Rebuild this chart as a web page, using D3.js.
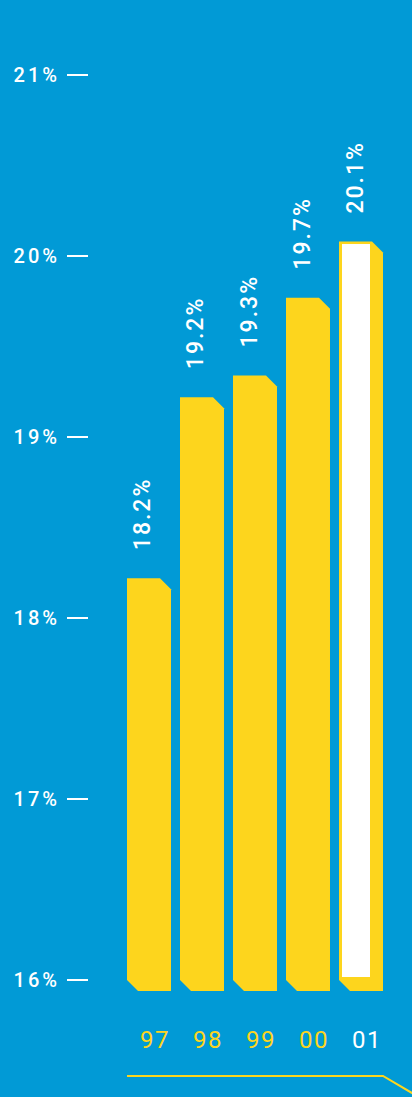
<!DOCTYPE html>
<html>
<head>
<meta charset="utf-8">
<script src="https://cdn.jsdelivr.net/npm/d3@7"></script>
<style>
  html, body { margin: 0; padding: 0; background: #019ad6; }
  svg { display: block; }
</style>
</head>
<body>
<div id="chart"></div>
<script>
// data
const years = ["97", "98", "99", "00", "01"];
const shares = [18.22, 19.22, 19.34, 19.77, 20.08];   // bar tops
const shareLabels = ["18.2%", "19.2%", "19.3%", "19.7%", "20.1%"];
const yTicks = [16, 17, 18, 19, 20, 21];

const width = 412, height = 1097;
const blue = "#019ad6", yellow = "#fdd51d", white = "#ffffff";
const bevel = 11;

const svg = d3.select("#chart").append("svg")
  .attr("width", width)
  .attr("height", height);

svg.append("rect").attr("width", width).attr("height", height).attr("fill", blue);

const x = d3.scaleBand().domain(years).range([127, 383]).paddingInner(0.17).paddingOuter(0);
const y = d3.scaleLinear().domain([16, 21]).range([980, 75]);

// y axis: labels + short dashes
const yAxis = svg.append("g");
yAxis.selectAll("text")
  .data(yTicks)
  .enter()
  .append("text")
  .attr("x", 60)
  .attr("y", d => y(d) + 7)
  .attr("text-anchor", "end")
  .attr("fill", white)
  .style("font-family", "Roboto, sans-serif")
  .style("font-weight", 500)
  .style("font-size", "20px")
  .style("letter-spacing", "3px")
  .text(d => d + "%");
yAxis.selectAll("line")
  .data(yTicks)
  .enter()
  .append("line")
  .attr("x1", 67).attr("x2", 88)
  .attr("y1", d => y(d)).attr("y2", d => y(d))
  .attr("stroke", white)
  .attr("stroke-width", 2);

// bar outline with cut corners (top right, bottom left)
function barPath(d, i) {
  const x0 = x(years[i]), x1 = x0 + x.bandwidth();
  const top = y(d), bottom = y(16) + bevel;
  return "M" + x0 + "," + top +
    "L" + (x1 - bevel) + "," + top +
    "L" + x1 + "," + (top + bevel) +
    "L" + x1 + "," + bottom +
    "L" + (x0 + bevel) + "," + bottom +
    "L" + x0 + "," + (bottom - bevel) + "Z";
}

svg.selectAll("path.bar")
  .data(shares)
  .enter()
  .append("path")
  .attr("class", "bar")
  .attr("d", barPath)
  .attr("fill", yellow);

// last year is highlighted with a white face
const last = shares.length - 1;
svg.append("rect")
  .attr("x", x(years[last]) + 3)
  .attr("y", y(shares[last]) + 2.5)
  .attr("width", x.bandwidth() - 3 - 13)
  .attr("height", y(16) - 3 - (y(shares[last]) + 2.5))
  .attr("fill", white);

// rotated value labels, centered on the front face
svg.selectAll("text.val")
  .data(shares)
  .enter()
  .append("text")
  .attr("class", "val")
  .attr("transform", (d, i) => {
    const cx = x(years[i]) + (x.bandwidth() - 13) / 2 + 8;
    return "translate(" + cx + "," + (y(d) - 28) + ") rotate(-90)";
  })
  .attr("fill", white)
  .style("font-family", "Roboto, sans-serif")
  .style("font-weight", 500)
  .style("font-size", "23px")
  .style("letter-spacing", "2px")
  .text((d, i) => shareLabels[i]);

// year labels
svg.selectAll("text.year")
  .data(years)
  .enter()
  .append("text")
  .attr("class", "year")
  .attr("x", d => x(d) + x.bandwidth() / 2 + 6)
  .attr("y", 1048)
  .attr("text-anchor", "middle")
  .attr("fill", (d, i) => i === last ? white : yellow)
  .style("font-family", "Roboto, sans-serif")
  .style("font-size", "24px")
  .style("letter-spacing", "1.5px")
  .text(d => d);

// base line running off to the lower right
const baseLine = d3.line();
svg.append("path")
  .attr("d", baseLine([[x(years[0]), 1076], [x(years[last]) + x.bandwidth(), 1076], [width + 10, 1076 + (width + 10 - 383) * 17 / 29]]))
  .attr("fill", "none")
  .attr("stroke", yellow)
  .attr("stroke-width", 2);
</script>
</body>
</html>
